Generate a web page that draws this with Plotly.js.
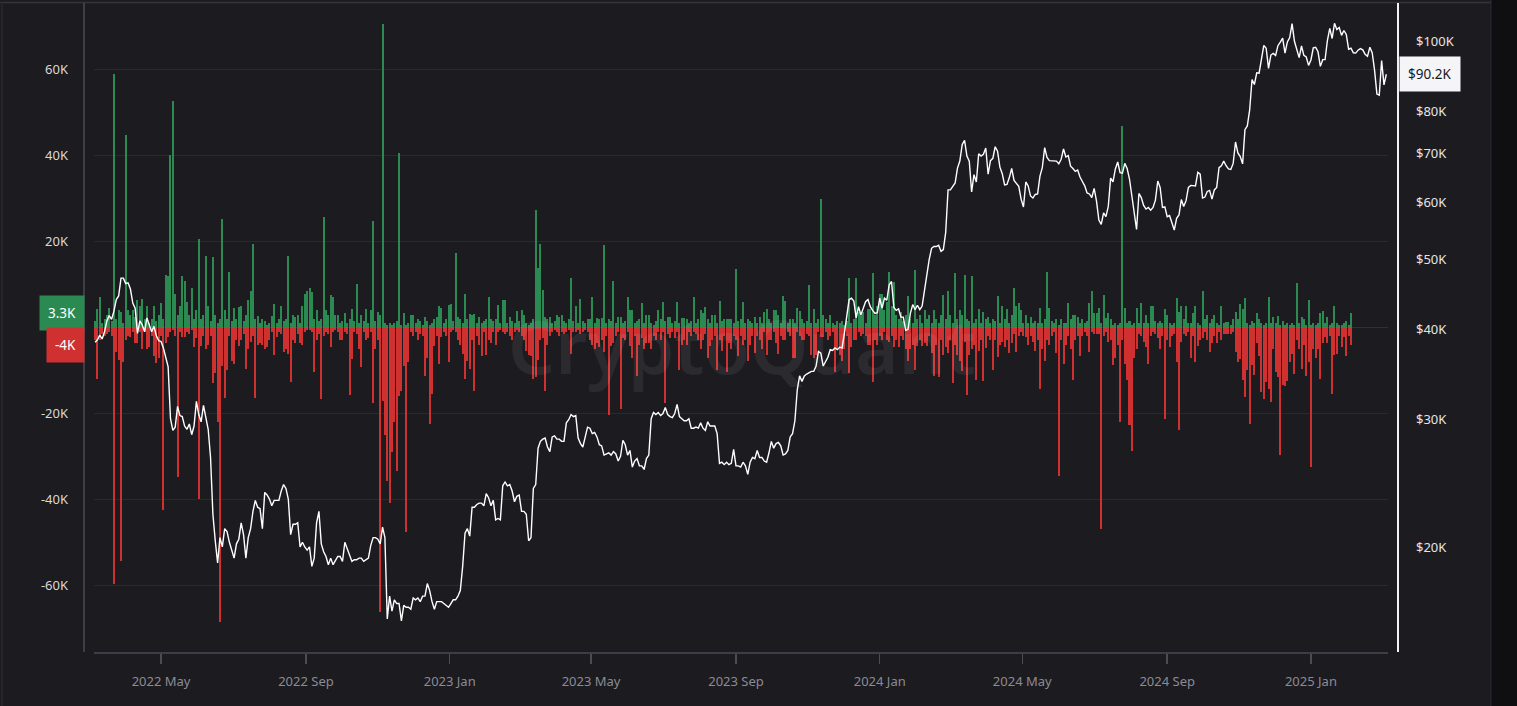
<!DOCTYPE html>
<html><head><meta charset="utf-8">
<script src="https://cdn.plot.ly/plotly-3.0.1.min.js"></script>
<style>html,body{margin:0;padding:0;background:#1c1b20;overflow:hidden}#chart{width:1517px;height:706px}</style>
</head><body><div id="chart"></div>
<script>
// ---- data (thousands) ----
const flowStart = '2022-03-06';   // one value every 2 days
const priceStart = '2022-03-06';  // one value every 2 days
const stepDays = 2;

const inflowK = [
1.5,4.3,7.2,1,2,2.8,4.5,1.5,59,2,4,3.5,1,44.7,4,3,4,2.5,6.5,5,
6.7,2,5,1,2,5,1.5,3,5.8,2,12.2,12,40.1,52.6,7.7,3,5,11.9,10.8,6,
3,9.3,2,4,20.6,2,3,16.7,5,1.5,16.4,3,1,2,25.3,4,2,13,1.5,4.5,
2,4.8,5,1.5,3,6.3,8.6,19.5,2,2.6,1,2,1.5,0.5,1,2.6,5.5,1,2,5,
1.5,2,16.7,1,3,2.5,3,1,5,7.7,8.5,9.2,8.3,2,4,1.5,2,25.6,4,3,
7.5,7.1,3,3,1,1.5,3.3,1,2,4.3,1.5,10.2,1,3,1.5,4.2,1,4,24.7,1.5,
3.6,3,70.6,1,0.5,1,0.5,1,1.5,40.6,0.5,3.3,0.5,1,3,3,1,2,1.5,0.5,
2.5,1.5,0.5,1,2,2.5,5.1,4.6,1,2,5.3,5.5,1.5,17.4,2.5,2,1,7.9,2,3.2,
3,3.2,1,2.5,1,1.5,2,7,2,1.5,2,5.3,1,6.3,6.5,1,2.5,1.5,1,3.8,
1.5,4,3,1,0.5,1,2,27.3,13.9,19.5,8.8,2.5,2,2.5,1,1.5,3,2.5,3,1.5,
1,2,11.6,1.5,5,1,6.6,1.5,1,2,2,7,1,2.2,2,2.2,19.1,1,2,1.5,
10.8,1,2.5,2.5,1,1.5,7,4,4,1,1.5,2,5.6,1,2.8,2.8,1,0.5,1.5,4,
2,6,1.5,2.5,2.5,1,1.5,6,1,2.3,2.3,2,1,1.5,7,1,2,4,3.3,4.7,
2,1,3,3,1,6.2,1.5,2,2,2,2,1,13.5,1.5,2,6,1,2,1.5,1,
2.5,1,2.5,1,3.6,4.3,2,1,4,4,3,1,7.3,6.2,1,2,2,1,4.6,3.8,
2,1,1.5,10,1,4.3,1,2,29.9,2.8,2,1,2.8,1,0.5,1.6,1,1.6,0.5,1.6,
11.6,1,2,11.6,3.6,3,3.6,1,4.3,4.3,12.7,3,5,7.9,7.9,4,6,12.9,4.9,10.5,
3,2,3.6,1.5,3,7.3,2,1,13.3,2,3,1,4,2,3,1,4,2,1,3,
7.6,2,8.5,3,1,12.7,2,4,3,12.3,2,1.5,12,1,2,4.3,1,3.6,2,2.5,
1,2,1.5,7.3,1,4.9,2,4.3,1,3,9.3,5,5.7,4.1,1,2.8,1,2.5,1,1.5,
1,4.6,1,2,12.8,4.6,1.6,1,2,0.5,2,1,1,5.6,2,3,3,2.5,1,2,
1,1.5,5.6,8.5,3.3,3.3,4.6,1,7.6,2.3,3.4,2,0.5,1,0.5,1,46.8,4.6,1,1.5,
0.5,1,4.6,1,5.6,1,3,1,5.1,5.1,1.6,1,1.6,1,4.3,3,1,0.5,1,6.9,
3.6,5,2,5,1,1,3.3,5,1,0.5,8.5,2,3,1,2,3,1,0.5,4.9,1,
1.2,1.2,0.5,2,3.6,2,5.4,4.3,6.9,1,0.5,1.4,1,3.4,2,1,0.5,1,7.1,1,
2.5,1,2.6,0.5,1.6,0.5,1,0.5,1,0.5,10.4,1,2.5,1.9,0.5,6.3,0.5,1,0.5,1,
3.4,3.8,1,2.5,0.5,1,4.9,1,0.5,0.5,1,1.6,0.5,3.3
];

const outflowK = [
-3,-12,-2.8,-1.5,-2,-1.5,-1,-2,-59.6,-5.8,-7.6,-54.4,-8,-3,-2,-2.3,-1,-3.5,-3.5,-1,
-5,-1,-5,-4.5,-2,-6.7,-8.2,-7,-2,-42.5,-3.5,-2.3,-1,-0.5,-2,-34.7,-1,-2.3,-2.3,-1,
-1.5,-0.5,-4.5,-2.5,-39.9,-4.3,-2,-5,-4,-2,-13,-10.5,-21.9,-68.5,-9,-16.5,-10,-2,-7.7,-8.4,
-3,-4.3,-3,-1.5,-9.7,-5,-3.4,-2,-16.5,-4,-3.5,-4,-5,-4.5,-3,-1,-6.3,-2.3,-1,-1.6,
-5.8,-5,-6.2,-12.7,-2.8,-3.5,-1.5,-3.5,-4,-1,-0.5,-0.5,-1,-10.3,-3,-1.5,-16.6,-2,-1,-1.5,
-4.5,-1,-0.5,-1,-2.8,-3,-1,-1.5,-15.6,-7.4,-1,-1.5,-5,-9.1,-1,-3,-2.5,-1,-17.5,-5,
-3,-66.2,-17,-25,-35.7,-40.9,-29,-22,-33.4,-16,-14.8,-9,-47.6,-8,-1,-2,-1,-3,-1.5,-2,
-11.2,-7,-22.4,-15.4,-4.3,-2,-8.6,-2.3,-1,-2,-8,-1,-0.5,-1,-3,-4,-6.2,-12,-7.7,-9.6,
-3,-14.7,-2,-4,-6.6,-1,-6.3,-3,-3.5,-1,-4,-1,-0.5,-1,-1.5,-1,-2,-3,-1,-0.5,
-1,-2,-3,-5.4,-6.3,-6.7,-12,-11.4,-7.6,-3,-2.5,-14.8,-4,-2,-1,-0.5,-1,-2,-1,-1.5,
-1,-0.5,-6.2,-1,-1,-0.5,-1.5,-1,-0.5,-1,-3,-4,-5,-3.5,-4.5,-3,-5.6,-2,-20.4,-4.3,
-3.5,-2,-1,-18.9,-2.5,-2.8,-1,-4.3,-7,-2,-11.2,-4,-2.5,-5,-3.5,-3.5,-5,-2,-3,-1,
-2.8,-1,-17.5,-1.5,-2.5,-1,-2.5,-1,-9.8,-4,-2.8,-4,-1,-2,-1,-1.5,-2.8,-5,-3,-1.5,
-7.2,-4.3,-3,-2,-9.9,-2.8,-5.5,-2,-10.3,-3.5,-5,-2,-3,-6.7,-2,-4,-3,-7.8,-4,-2,
-6,-2,-2.8,-5,-1,-6.3,-3,-3,-1,-3.5,-6.1,-2,-2.8,-3,-1,-2,-7.2,-7.2,-1,-2,
-3,-2.8,-1.5,-2,-6.3,-7,-6.3,-1,-2.3,-2.3,-1,-3,-2,-1,-10.4,-5,-6.3,-7.8,-5,-2,
-10.5,-4.6,-2.8,-3,-1,-2,-1.5,-2,-4,-4,-12.7,-2.8,-4,-2,-3,-1,-3,-3.3,-2,-4.6,
-2.8,-4.6,-2,-3,-5,-7.8,-5,-4,-9.8,-4.3,-2.8,-4.3,-3.5,-4.3,-2,-6,-11.3,-4,-11.6,-3,
-6.3,-4.6,-6,-3,-13,-4,-6.3,-7.8,-10.1,-3.3,-15.6,-6.3,-5,-4,-12.2,-5.4,-3,-12.5,-4.7,-2,
-3,-10,-3,-6.8,-4,-3.3,-4.6,-3,-6,-3.5,-1.5,-5.6,-2,-1,-2,-2.3,-4,-2,-3.3,-5.5,
-3,-14.2,-5,-7.8,-3,-4,-2,-1,-6,-34.6,-3,-8.6,-4,-2,-5,-12.1,-3,-2,-6.7,-2,
-1,-2,-5.6,-1,-1.5,-1.4,-1.4,-46.8,-2,-1,-3.4,-3,-8.8,-7.2,-4,-22,-3,-8.5,-12.1,-22.7,
-28.8,-7.2,-4.9,-1.6,-2,-3.4,-4.5,-8.5,-2,-1,-1.5,-2.4,-4.9,-2,-21.2,-3,-4.5,-2,-1.5,-8,
-23.9,-3.4,-1.6,-2,-1,-7.2,-2,-8,-4.2,-3,-2.5,-1,-2.8,-5.6,-3.6,-2,-3.6,-1,-2.8,-1.6,
-1.6,-1.4,-1.4,-1,-5.6,-8,-7.4,-12.1,-16.2,-10,-22.4,-8.8,-11.1,-3.7,-6.7,-14.9,-16.6,-12.6,-14.4,-17.3,
-5,-10.3,-11.5,-29.7,-13.3,-13.5,-12.4,-8,-6.2,-10.9,-3,-4.9,-9.7,-4,-11.3,-8,-32.5,-4.9,-7.2,-5,
-11.9,-3.7,-2.3,-3.7,-2,-15.4,-6.4,-6.1,-2,-4.5,-2.3,-6.7,-2,-4
];

const price2022 = [
38.4,38.7,39.3,38.8,39.7,41.1,41.8,41.3,42.4,44.0,44.5,47.1,47.1,
46.3,46.4,45.5,43.5,42.8,39.5,41.1,40.6,39.7,41.5,40.5,39.7,40.4,39.2,38.6,
38.5,37.7,36.6,35.5,30.1,29.0,29.3,31.3,30.4,30.3,29.4,29.1,29.6,28.6,29.4,31.8,
30.5,29.8,31.4,30.2,29.1,26.6,22.2,20.4,19.0,20.6,20.0,21.2,21.0,20.3,19.8,
19.3,20.2,20.5,21.6,20.8,19.3,20.6,21.2,22.4,23.2,22.7,22.6,21.2,23.8,23.6,
23.3,22.8,23.2,23.2,23.2,23.9,24.4,24.1,23.3,20.8,21.5,21.5,21.6,20.0,20.3,20.0,
19.8,20.0,18.8,19.3,21.6,22.4,20.2,19.7,19.4,18.9,19.3,18.9,19.2,19.4,19.4,
19.1,20.3,19.9,19.4,19.1,19.2,19.2,19.3,19.3,19.1,19.2,19.3,20.1,20.6,20.6,
20.5,20.2,21.3,20.6,15.9,17.1,16.3,16.9,16.7,16.7,15.8,16.6,16.5,16.5,16.4,
17.0,16.9,17.0,16.8,17.1,17.1,17.8,17.4,16.8,16.4,16.8,16.8,16.8,16.7,16.6,16.5
];
const price2023 = [
16.7,16.9,16.9,17.1,17.4,18.8,20.9,21.2,20.7,22.7,22.7,22.9,23.0,23.0,22.8,
23.7,23.4,22.8,23.2,21.8,21.9,21.8,24.3,24.6,24.3,24.4,23.9,23.1,23.5,
23.6,22.4,22.4,22.2,20.4,20.6,24.1,24.4,27.4,28.0,28.2,28.3,27.5,27.1,28.4,28.5,
28.2,28.2,28.0,28.0,29.7,30.0,30.5,30.3,30.4,28.3,27.8,27.5,28.4,29.3,29.2,
28.7,28.8,28.4,27.7,27.6,26.8,26.9,27.0,26.8,27.1,26.9,26.3,26.7,28.1,27.7,
26.8,27.2,25.8,26.3,26.5,25.9,25.9,25.6,26.5,26.8,30.1,30.7,30.5,30.7,30.4,
30.6,31.2,30.5,30.3,30.2,30.6,31.5,30.3,30.1,29.9,29.9,30.1,29.2,29.2,29.3,29.2,
29.7,29.2,29.0,29.8,29.4,29.4,29.4,28.7,26.1,26.2,26.0,26.2,26.0,26.1,27.3,
25.9,25.9,25.8,26.2,25.9,25.2,26.2,26.6,26.5,27.2,26.6,26.6,26.3,26.2,27.0,
28.0,27.4,27.8,27.9,27.6,26.8,26.9,27.2,28.4,28.7,29.9,33.0,34.5,33.9,34.5,34.7,
34.9,35.0,35.0,35.6,37.3,37.1,35.6,36.2,36.6,37.5,37.4,37.7,37.5,37.8,37.7,
39.5,42.0,44.0,44.2,43.8,41.5,43.0,41.9,42.7,43.7,44.0,43.0,42.5,42.1,42.2
];
const price2024 = [
44.2,42.8,44.2,43.9,46.1,46.6,42.9,42.5,42.7,41.6,41.6,39.9,40.0,42.1,43.3,42.6,
43.2,42.6,43.1,45.3,47.8,50.0,51.8,52.1,52.1,52.3,51.3,51.6,54.5,62.4,
62.4,63.1,63.8,66.9,68.4,72.1,73.1,69.5,68.4,62.0,65.5,64.0,70.0,69.5,69.9,71.3,
65.6,68.5,69.0,71.6,70.6,67.1,65.7,63.4,63.5,64.9,66.8,64.3,63.8,63.1,60.6,
59.1,64.0,63.2,61.2,60.8,61.5,61.6,65.2,67.0,71.4,69.2,68.5,68.5,68.4,68.4,
67.8,68.8,71.1,69.3,69.6,67.3,66.8,66.2,66.5,65.0,64.1,63.2,61.8,61.6,60.9,
62.7,60.2,56.7,55.9,58.0,57.3,59.2,64.8,64.0,66.7,68.2,65.9,65.8,67.9,66.8,64.6,
61.4,58.1,55.0,61.7,60.9,59.4,58.7,59.0,58.5,59.0,60.4,64.2,62.9,59.0,59.1,
57.3,57.5,56.2,54.9,57.0,57.6,60.5,59.2,60.3,62.9,63.3,63.3,63.2,66.0,65.6,
60.8,61.0,62.1,62.3,60.6,62.4,62.9,67.0,67.4,68.4,67.4,66.7,66.6,67.9,72.7,70.2,
69.4,67.8,75.6,76.5,80.5,88.7,87.3,90.6,90.5,94.3,98.9,98.0,91.9,95.9,96.4,
95.8,98.8,99.9,101.2,96.5,100.0,101.4,106.0,100.2,97.8,95.1,98.7,95.8,95.3,92.8
];
const price2025 = [
94.4,98.1,98.3,96.9,92.5,94.5,94.5,100.5,104.4,101.1,106.1,104.0,104.7,102.1,103.7,102.4,
97.7,98.0,96.6,96.5,97.4,97.9,97.5,96.1,95.5,98.3,96.6,91.4,84.7,84.4,
94.2,87.2,90.2
];

const tickDates  = ['2022-05-01','2022-09-01','2023-01-01','2023-05-01','2023-09-01','2024-01-01','2024-05-01','2024-09-01','2025-01-01'];
const tickLabels = ['2022 May','2022 Sep','2023 Jan','2023 May','2023 Sep','2024 Jan','2024 May','2024 Sep','2025 Jan'];
const leftTicks    = [-60,-40,-20,0,20,40,60];
const leftTickText = ['-60K','-40K','-20K','','20K','40K','60K'];
const rightTicks    = [20,30,40,50,60,70,80,100];
const rightTickText = ['$20K','$30K','$40K','$50K','$60K','$70K','$80K','$100K'];

// ---- helpers ----
function dateSeq(start, n, step) {
  const t0 = Date.parse(start + 'T00:00:00Z');
  const out = [];
  for (let k = 0; k < n; k++) out.push(new Date(t0 + k * step * 86400000).toISOString().slice(0, 10));
  return out;
}
const priceK = price2022.concat(price2023, price2024, price2025);
const flowDates = dateSeq(flowStart, inflowK.length, stepDays);
const priceDates = dateSeq(priceStart, priceK.length, stepDays);

const GREEN = '#2b8a52', RED = '#cf3131';
const FONT = 'Noto Sans, Open Sans, sans-serif';
const lastIn = inflowK[inflowK.length - 1];
const lastOut = outflowK[outflowK.length - 1];
const lastPrice = priceK[priceK.length - 1];

// plot area: x 94..1388 px, y 3..652 px
const PW = 1294, PH = 649;
const px = v => (v - 94) / PW;
const py = v => (652 - v) / PH;

const BARW = 1.7 * 86400000;
const traces = [
  {type:'bar', x: flowDates, y: inflowK, marker:{color: GREEN, line:{width:0}}, width: BARW, hoverinfo:'skip'},
  {type:'bar', x: flowDates, y: outflowK, marker:{color: RED, line:{width:0}}, width: BARW, hoverinfo:'skip'},
  {type:'scatter', mode:'lines', x: priceDates, y: priceK, yaxis:'y2', line:{color:'#ffffff', width:1.4}, hoverinfo:'skip'}
];

const layout = {
  width: 1517, height: 706,
  margin: {l: 94, r: 129, t: 3, b: 54},
  paper_bgcolor: '#1c1b20', plot_bgcolor: '#1c1b20',
  showlegend: false, barmode: 'overlay', bargap: 0,
  font: {family: FONT, color: '#d8d8de', size: 13},
  xaxis: {
    type: 'date', range: ['2022-03-05 02:00', '2025-03-07 10:00'],
    tickmode: 'array', tickvals: tickDates, ticktext: tickLabels,
    showgrid: false, zeroline: false,
    showline: true, linecolor: '#3e3e48', linewidth: 1.5,
    ticks: 'outside', ticklen: 10, tickwidth: 1.5, tickcolor: '#4c4c56',
    tickfont: {family: FONT, color: '#8b8b95', size: 13}, ticklabelstandoff: 7
  },
  yaxis: {
    range: [-75.5, 75.5], tickmode: 'array', tickvals: leftTicks, ticktext: leftTickText,
    showgrid: true, gridcolor: '#29292f', gridwidth: 1.5,
    zeroline: true, zerolinecolor: '#303038', zerolinewidth: 1.5,
    showline: false, ticks: '',
    tickfont: {family: FONT, color: '#d8d8de', size: 13}, ticklabelstandoff: 25
  },
  yaxis2: {
    overlaying: 'y', side: 'right', type: 'log',
    range: [Math.log10(14.31), Math.log10(113.2)],
    tickmode: 'array', tickvals: rightTicks, ticktext: rightTickText,
    showgrid: false, zeroline: false, showline: false, ticks: '',
    tickfont: {family: FONT, color: '#e4e4e8', size: 13}, ticklabelstandoff: 27
  },
  shapes: [
    {type:'rect', xref:'paper', yref:'paper', x0: px(1491), x1: px(1520), y0: py(710), y1: py(-5), fillcolor:'#0f0f11', line:{width:0}, layer:'below'},
    {type:'line', xref:'paper', yref:'paper', x0: px(1491), x1: px(1491), y0: py(706), y1: py(0), line:{color:'#2c2c33', width:1}},
    {type:'line', xref:'paper', yref:'paper', x0: px(0), x1: px(1491), y0: py(2.5), y1: py(2.5), line:{color:'#34343c', width:1.5}},
    {type:'line', xref:'paper', yref:'paper', x0: px(2), x1: px(2), y0: py(706), y1: py(2), line:{color:'#2a2a31', width:1.5}},
    {type:'line', xref:'paper', yref:'paper', x0: px(84), x1: px(84), y0: py(652), y1: py(3), line:{color:'#3e3e48', width:2}},
    {type:'line', xref:'paper', yref:'paper', x0: px(1398), x1: px(1398), y0: py(652), y1: py(3), line:{color:'#f2f2f4', width:2}}
  ],
  annotations: [
    {text:'CryptoQuant', xref:'paper', yref:'paper', x: px(742), y: py(345), showarrow:false,
     font:{family: FONT, size: 74, color:'rgba(255,255,255,0.065)', weight: 600}},
    {text: lastIn + 'K', xref:'paper', yref:'y', x: px(85), y: lastIn, xanchor:'right', yanchor:'middle',
     showarrow:false, bgcolor: GREEN, borderpad: 8, font:{family: FONT, size: 13.5, color:'#ffffff'}},
    {text: lastOut + 'K', xref:'paper', yref:'y', x: px(85), y: lastOut, xanchor:'right', yanchor:'middle',
     showarrow:false, bgcolor: RED, borderpad: 8, font:{family: FONT, size: 13.5, color:'#ffffff'}},
    {text: '$' + lastPrice + 'K', xref:'paper', yref:'y2', x: px(1399), y: Math.log10(lastPrice), xanchor:'left', yanchor:'middle',
     showarrow:false, bgcolor:'#f5f5f8', borderpad: 8, font:{family: FONT, size: 13.5, color:'#16161a'}}
  ]
};

Plotly.newPlot('chart', traces, layout, {displayModeBar: false, staticPlot: true});
</script>
</body></html>
